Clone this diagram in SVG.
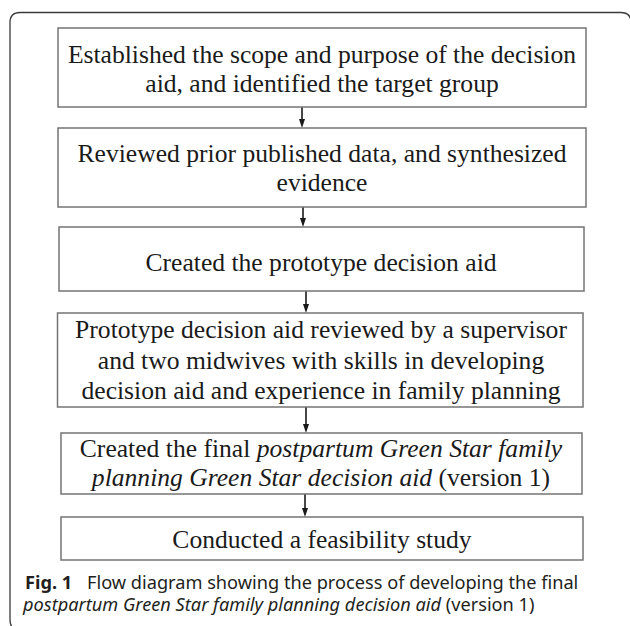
<svg xmlns="http://www.w3.org/2000/svg" width="630" height="626" viewBox="0 0 630 626">
<defs>
<style>
.box{fill:#fff;stroke:#747474;stroke-width:1.5}
.t{font-family:"Liberation Serif","Times New Roman",serif;font-size:25.6px;fill:#1a1a1a;text-anchor:middle}
.i{font-style:italic}
.cap{font-family:"Noto Sans","Open Sans",sans-serif;font-size:18.2px;fill:#231f20}
.conn{stroke:#1a1a1a;stroke-width:1.6;fill:none}
.head{fill:#1a1a1a}
</style>
</defs>
<rect width="630" height="626" fill="#fff"/>
<path d="M10,620 L10,22.5 Q10,12.5 20,12.5 L621,12.5 Q631,12.5 631,22.5 L631,626" fill="none" stroke="#3a3a3a" stroke-width="1.3"/>
<path d="M10,620 Q10,630 20,630" fill="none" stroke="#3a3a3a" stroke-width="1.3"/>
<g id="connectors">
<path class="conn" d="M302,107 L302,120"/>
<path class="head" d="M299,119 L305,119 L302,128 Z"/>
<path class="conn" d="M303,207 L303,219"/>
<path class="head" d="M300,218 L306,218 L303,227 Z"/>
<path class="conn" d="M306,291 L306,305"/>
<path class="head" d="M303,304 L309,304 L306,313 Z"/>
<path class="conn" d="M306,407 L306,425"/>
<path class="head" d="M303,424 L309,424 L306,433 Z"/>
<path class="conn" d="M305,494 L305,509"/>
<path class="head" d="M302,508 L308,508 L305,517 Z"/>
</g>
<g id="n1">
<rect class="box" x="58" y="28" width="528" height="79"/>
<text class="t" x="322" y="63">Established the scope and purpose of the decision</text>
<text class="t" x="322" y="92">aid, and identified the target group</text>
</g>
<g id="n2">
<rect class="box" x="58" y="128" width="528" height="79"/>
<text class="t" x="322" y="162">Reviewed prior published data, and synthesized</text>
<text class="t" x="322" y="191">evidence</text>
</g>
<g id="n3">
<rect class="box" x="59" y="227" width="525" height="64"/>
<text class="t" x="321" y="271">Created the prototype decision aid</text>
</g>
<g id="n4">
<rect class="box" x="57.5" y="313" width="525.5" height="94"/>
<text class="t" x="321" y="338">Prototype decision aid reviewed by a supervisor</text>
<text class="t" x="321" y="368.5">and two midwives with skills in developing</text>
<text class="t" x="321" y="399">decision aid and experience in family planning</text>
</g>
<g id="n5">
<rect class="box" x="61" y="433" width="521" height="61"/>
<text class="t" x="321" y="457">Created the final <tspan class="i">postpartum Green Star family</tspan></text>
<text class="t" x="321" y="485.5"><tspan class="i">planning Green Star decision aid</tspan> (version 1)</text>
</g>
<g id="n6">
<rect class="box" x="61" y="517" width="522" height="43"/>
<text class="t" x="322" y="548">Conducted a feasibility study</text>
</g>
<g id="caption">
<text class="cap" x="25" y="589"><tspan font-weight="bold">Fig. 1</tspan><tspan x="87">Flow diagram showing the process of developing the final</tspan></text>
<text class="cap" x="23" y="611"><tspan font-style="italic">postpartum Green Star family planning decision aid</tspan> (version 1)</text>
</g>
</svg>
